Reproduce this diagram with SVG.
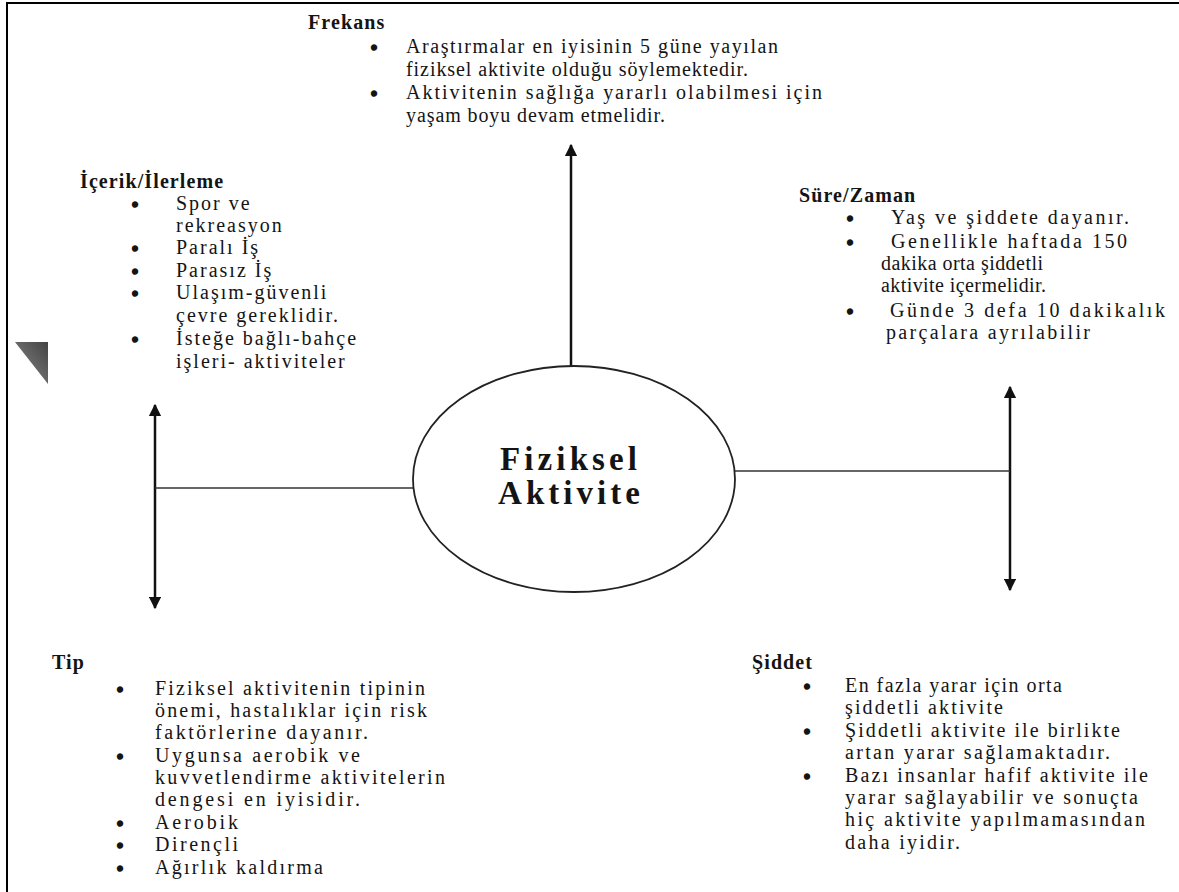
<svg xmlns="http://www.w3.org/2000/svg" width="1179" height="892" viewBox="0 0 1179 892">
<style>
text{font-family:"Liberation Serif","Times New Roman",serif;fill:#141414}
.t{font-size:20px;font-weight:bold;letter-spacing:1.1px}
.b{font-size:20px}
.s{letter-spacing:2px}
.d{font-size:20px;text-anchor:middle;stroke:#141414;stroke-width:1.6}
.c{font-size:33px;font-weight:bold}
.arr{stroke:#111;stroke-width:2.5;fill:none}
.h{stroke:#333;stroke-width:1.6;fill:none}
</style>
<defs>
<marker id="ah" viewBox="0 0 10 10" refX="9" refY="5" markerWidth="5" markerHeight="5" markerUnits="strokeWidth" orient="auto-start-reverse">
<path d="M0,0 L10,5 L0,10 z" fill="#111"/>
</marker>
<linearGradient id="tg" x1="1" y1="0" x2="0" y2="1">
<stop offset="0" stop-color="#444"/>
<stop offset="1" stop-color="#8a8a8a"/>
</linearGradient>
</defs>
<rect width="1179" height="892" fill="#fff"/>
<path d="M7,892 V3 H1179" stroke="#000" stroke-width="2" fill="none"/>
<polygon points="15,342 48,342 48,384" fill="url(#tg)"/>

<g id="connectors">
<line class="arr" x1="571" y1="366" x2="571" y2="145" marker-end="url(#ah)"/>
<line class="arr" x1="155" y1="405" x2="155" y2="608" marker-start="url(#ah)" marker-end="url(#ah)"/>
<line class="h" x1="155" y1="488" x2="413" y2="488"/>
<line class="arr" x1="1010" y1="387" x2="1010" y2="590" marker-start="url(#ah)" marker-end="url(#ah)"/>
<line class="h" x1="735" y1="471" x2="1010" y2="471"/>
</g>

<g id="center">
<ellipse cx="574" cy="479" rx="161" ry="113" fill="#fff" stroke="#222" stroke-width="1.8"/>
<text class="c" x="500" y="470" textLength="137">Fiziksel</text>
<text class="c" x="498" y="504" textLength="142">Aktivite</text>
</g>

<g id="frekans">
<text class="t" x="308" y="29">Frekans</text>
<text class="d" x="374" y="55">•</text>
<text class="b" x="406" y="53" textLength="372">Araştırmalar en iyisinin 5 güne yayılan</text>
<text class="b" x="406" y="76" textLength="342">fiziksel aktivite olduğu söylemektedir.</text>
<text class="d" x="374" y="101">•</text>
<text class="b" x="406" y="99" textLength="416">Aktivitenin sağlığa yararlı olabilmesi için</text>
<text class="b" x="406" y="122" textLength="259">yaşam boyu devam etmelidir.</text>
</g>

<g id="icerik">
<text class="t" x="80" y="188">İçerik/İlerleme</text>
<text class="d" x="135" y="212">•</text>
<text class="b s" x="176" y="210">Spor ve</text>
<text class="b s" x="176" y="232">rekreasyon</text>
<text class="d" x="135" y="256">•</text>
<text class="b s" x="176" y="254">Paralı İş</text>
<text class="d" x="135" y="279">•</text>
<text class="b s" x="176" y="277">Parasız İş</text>
<text class="d" x="135" y="301">•</text>
<text class="b s" x="176" y="299">Ulaşım-güvenli</text>
<text class="b s" x="176" y="322">çevre gereklidir.</text>
<text class="d" x="135" y="347">•</text>
<text class="b s" x="176" y="345">İsteğe bağlı-bahçe</text>
<text class="b s" x="176" y="368">işleri- aktiviteler</text>
</g>

<g id="sure">
<text class="t" x="799" y="202">Süre/Zaman</text>
<text class="d" x="850" y="226">•</text>
<text class="b" x="891" y="224" textLength="238">Yaş ve şiddete dayanır.</text>
<text class="d" x="850" y="250">•</text>
<text class="b" x="891" y="248" textLength="236">Genellikle haftada 150</text>
<text class="b" x="881" y="270" textLength="162">dakika orta şiddetli</text>
<text class="b" x="881" y="292" textLength="165">aktivite içermelidir.</text>
<text class="d" x="850" y="319">•</text>
<text class="b" x="890" y="317" textLength="275">Günde 3 defa 10 dakikalık</text>
<text class="b" x="886" y="339" textLength="204">parçalara ayrılabilir</text>
</g>

<g id="tip">
<text class="t" x="52" y="669">Tip</text>
<text class="d" x="120" y="697">•</text>
<text class="b" x="155" y="695" textLength="270">Fiziksel aktivitenin tipinin</text>
<text class="b" x="155" y="717" textLength="272">önemi, hastalıklar için risk</text>
<text class="b" x="155" y="739" textLength="213">faktörlerine dayanır.</text>
<text class="d" x="120" y="764">•</text>
<text class="b" x="155" y="762" textLength="205">Uygunsa aerobik ve</text>
<text class="b" x="155" y="784" textLength="290">kuvvetlendirme aktivitelerin</text>
<text class="b" x="155" y="806" textLength="205">dengesi en iyisidir.</text>
<text class="d" x="120" y="831">•</text>
<text class="b" x="155" y="829" textLength="83">Aerobik</text>
<text class="d" x="120" y="853">•</text>
<text class="b" x="155" y="851" textLength="83">Dirençli</text>
<text class="d" x="120" y="876">•</text>
<text class="b" x="155" y="874" textLength="168">Ağırlık kaldırma</text>
</g>

<g id="siddet">
<text class="t" x="752" y="669">Şiddet</text>
<text class="d" x="807" y="694">•</text>
<text class="b" x="845" y="692" textLength="217">En fazla yarar için orta</text>
<text class="b" x="845" y="714" textLength="158">şiddetli aktivite</text>
<text class="d" x="807" y="739">•</text>
<text class="b" x="845" y="737" textLength="275">Şiddetli aktivite ile birlikte</text>
<text class="b" x="845" y="759" textLength="265">artan yarar sağlamaktadır.</text>
<text class="d" x="807" y="784">•</text>
<text class="b" x="845" y="782" textLength="303">Bazı insanlar hafif aktivite ile</text>
<text class="b" x="845" y="804" textLength="293">yarar sağlayabilir ve sonuçta</text>
<text class="b" x="845" y="826" textLength="300">hiç aktivite yapılmamasından</text>
<text class="b" x="845" y="849" textLength="115">daha iyidir.</text>
</g>
</svg>
